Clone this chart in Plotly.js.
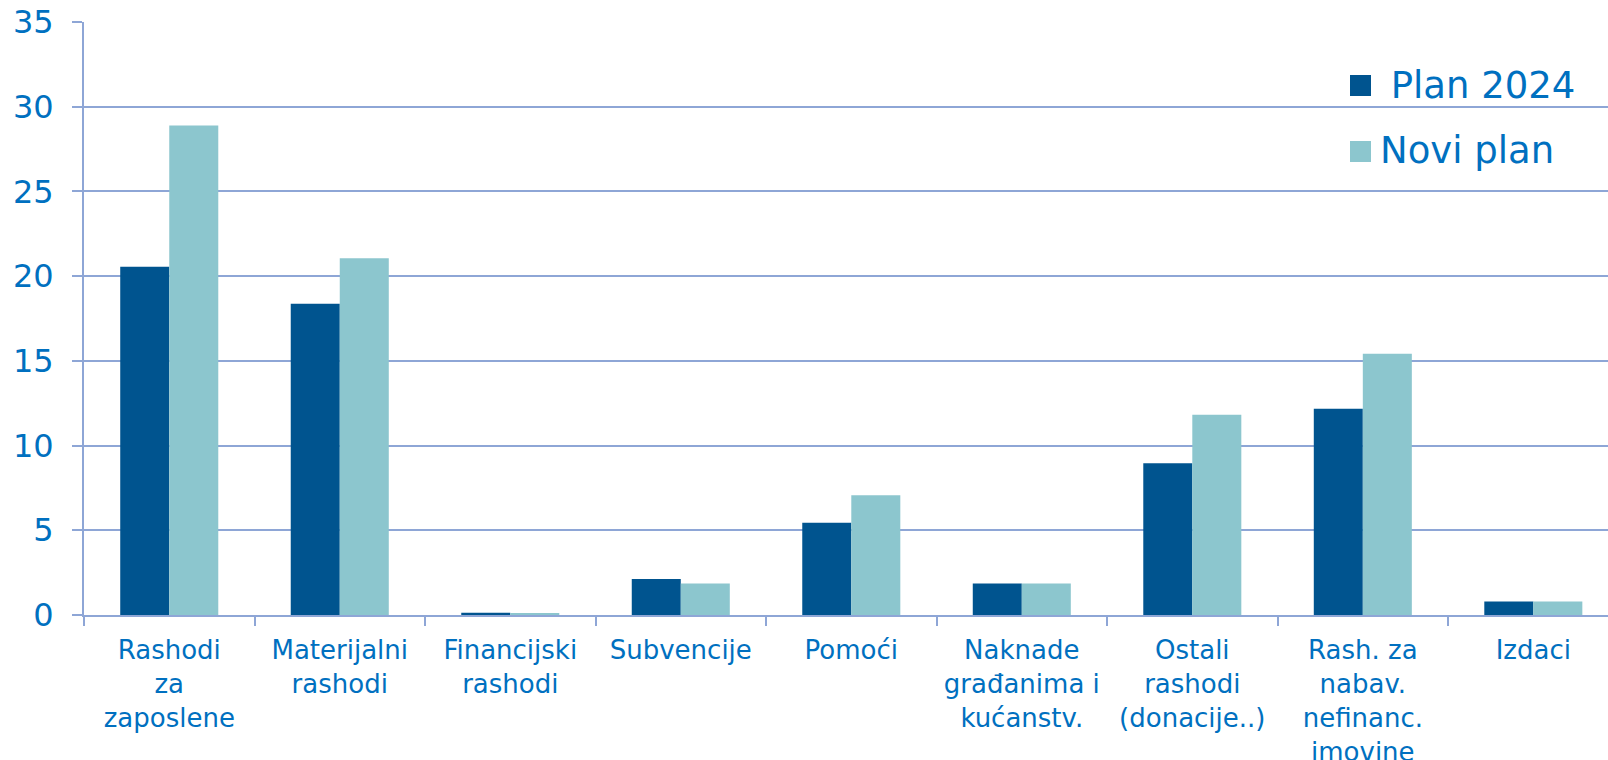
<!DOCTYPE html>
<html>
<head>
<meta charset="utf-8">
<script src="https://cdn.plot.ly/plotly-3.0.1.min.js"></script>
<style>html,body{margin:0;padding:0;background:#fff;}#chart{width:1608px;height:760px;}</style>
</head>
<body>
<div id="chart"></div>
<script>
var categories = [
  "Rashodi<br>za<br>zaposlene",
  "Materijalni<br>rashodi",
  "Financijski<br>rashodi",
  "Subvencije",
  "Pomoći",
  "Naknade<br>građanima i<br>kućanstv.",
  "Ostali<br>rashodi<br>(donacije..)",
  "Rash. za<br>nabav.<br>nefinanc.<br>imovine",
  "Izdaci"
];
var plan2024 = [20.55, 18.37, 0.13, 2.12, 5.44, 1.86, 8.96, 12.18, 0.79];
var noviPlan = [28.89, 21.06, 0.12, 1.86, 7.07, 1.86, 11.82, 15.42, 0.79];
var seriesNames = [" Plan 2024", "Novi plan"];
var yTicks = [0, 5, 10, 15, 20, 25, 30, 35];

var DARK = "#00548F", LIGHT = "#8CC6CE", TEXT = "#0070C0", GRID = "#8EA6D6";
var FONT = "DejaVu Sans, Verdana, sans-serif";

var W = 1608, H = 760, ML = 84, MR = 0, MT = 22, MB = 145;
function px(x){ return (x - ML) / (W - ML - MR); }
function py(y){ return (H - MB - y) / (H - MB - MT); }

var traces = [
  {type: "bar", x: categories, y: plan2024, name: seriesNames[0], marker: {color: DARK}, showlegend: false, hoverinfo: "y"},
  {type: "bar", x: categories, y: noviPlan, name: seriesNames[1], marker: {color: LIGHT}, showlegend: false, hoverinfo: "y"}
];

var legendItems = [
  {color: DARK, text: seriesNames[0], sq: [1350, 75], tx: 1377, ty: 85},
  {color: LIGHT, text: seriesNames[1], sq: [1350, 141], tx: 1378, ty: 151}
];
var shapes = [], annotations = [];
legendItems.forEach(function(it){
  shapes.push({type: "rect", xref: "paper", yref: "paper",
    x0: px(it.sq[0]), x1: px(it.sq[0] + 21), y0: py(it.sq[1] + 21), y1: py(it.sq[1]),
    fillcolor: it.color, line: {width: 0}});
  annotations.push({xref: "paper", yref: "paper", x: px(it.tx), y: py(it.ty),
    xanchor: "left", yanchor: "middle", showarrow: false, text: it.text,
    font: {family: FONT, size: 37, color: TEXT}});
});

var layout = {
  width: W, height: H,
  margin: {l: ML, r: MR, t: MT, b: MB, pad: 0},
  paper_bgcolor: "#ffffff", plot_bgcolor: "#ffffff",
  barmode: "group", bargap: 0.425, bargroupgap: 0,
  showlegend: false,
  font: {family: FONT, color: TEXT},
  xaxis: {
    type: "category", range: [-0.5, 8.438],
    tickson: "boundaries", ticks: "outside", ticklen: 9, tickwidth: 2, tickcolor: GRID,
    showline: true, linecolor: GRID, linewidth: 2, showgrid: false,
    tickfont: {family: FONT, size: 26, color: TEXT}, tickangle: 0, automargin: false,
    ticklabelstandoff: 11
  },
  yaxis: {
    range: [0, 35], tickvals: yTicks, ticktext: yTicks.map(String),
    ticks: "outside", ticklen: 10, tickwidth: 2, tickcolor: GRID,
    showline: true, linecolor: GRID, linewidth: 2,
    showgrid: true, gridcolor: GRID, gridwidth: 2, zeroline: false,
    tickfont: {family: FONT, size: 32, color: TEXT}, ticklabelstandoff: 12, automargin: false
  },
  shapes: shapes,
  annotations: annotations
};

Plotly.newPlot("chart", traces, layout, {displayModeBar: false, staticPlot: true});
</script>
</body>
</html>
